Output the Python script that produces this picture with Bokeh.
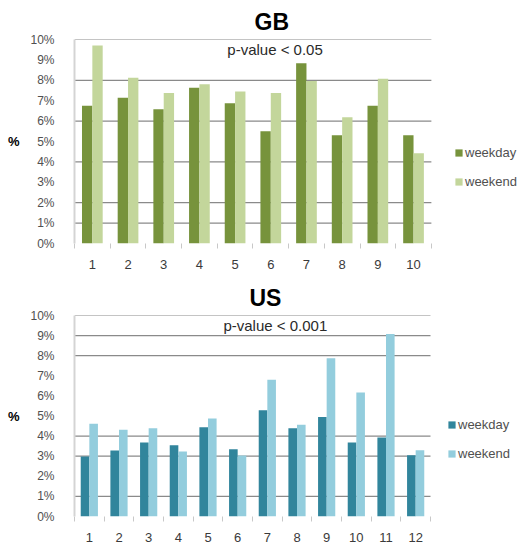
from bokeh.plotting import figure
from bokeh.layouts import column
from bokeh.models import (ColumnDataSource, FixedTicker, Label, Legend, LegendItem)
from bokeh.transform import dodge
from bokeh.embed import file_html
from bokeh.resources import INLINE

# ---- data (percent of activity) ----
gb_groups = [1, 2, 3, 4, 5, 6, 7, 8, 9, 10]
gb_weekday = [6.75, 7.14, 6.58, 7.63, 6.88, 5.50, 8.84, 5.31, 6.75, 5.31]
gb_weekend = [9.70, 8.12, 7.38, 7.81, 7.45, 7.38, 7.97, 6.19, 8.07, 4.43]

us_groups = [1, 2, 3, 4, 5, 6, 7, 8, 9, 10, 11, 12]
us_weekday = [2.99, 3.28, 3.68, 3.55, 4.44, 3.35, 5.28, 4.39, 4.95, 3.68, 3.93, 3.05]
us_weekend = [4.62, 4.31, 4.39, 3.23, 4.88, 3.04, 6.80, 4.57, 7.87, 6.17, 9.08, 3.30]

y_ticks = list(range(0, 11))
y_labels = {t: f"{t}%" for t in y_ticks}

FONT = "Liberation Sans"
W, H = 531, 272
PLOT_RIGHT = 430  # where the bar area ends; the legend sits to its right


def make_panel(title, groups, weekday, weekend, colors, pval, pval_x, grid_at,
               border_left, border_top, border_bottom, legend_loc, title_offset):
    src = ColumnDataSource(dict(x=groups, weekday=weekday, weekend=weekend))
    n = len(groups)
    # the frame spans the legend too, so one category step is
    # (PLOT_RIGHT - border_left) / n pixels
    step = (PLOT_RIGHT - border_left) / n
    x_end = 0.5 + (W - border_left) / step
    p = figure(width=W, height=H, x_range=(0.5, x_end), y_range=(0, 10),
               output_backend="svg", toolbar_location=None,
               min_border_left=border_left, min_border_right=0,
               min_border_top=border_top, min_border_bottom=border_bottom)
    p.outline_line_color = None
    p.background_fill_color = "white"

    p.title.text = title
    p.title.align = "left"
    p.title.offset = title_offset
    p.title.text_font = FONT
    p.title.text_font_size = "23px"
    p.title.text_font_style = "bold"
    p.title.text_color = "black"

    # horizontal rules across the bar area only
    p.segment(x0=[0.5] * len(grid_at), x1=[n + 0.5] * len(grid_at),
              y0=grid_at, y1=grid_at, line_color="#8a8a8a", line_width=1.2)

    bw = 0.29
    r1 = p.vbar(x=dodge("x", -bw / 2, range=p.x_range), top="weekday", width=bw,
                bottom=0, source=src, fill_color=colors[0], line_color=None)
    r2 = p.vbar(x=dodge("x", bw / 2, range=p.x_range), top="weekend", width=bw,
                bottom=0, source=src, fill_color=colors[1], line_color=None)

    # axes
    xa = p.xaxis[0]
    xa.ticker = FixedTicker(ticks=groups, minor_ticks=[g + 0.5 for g in [0] + groups])
    xa.major_tick_line_color = None
    xa.major_tick_out = 0
    xa.minor_tick_out = 5
    xa.minor_tick_in = 0
    xa.minor_tick_line_color = "#c8c8c8"
    xa.axis_line_color = None
    xa.major_label_standoff = 11
    xa.major_label_text_font = FONT
    xa.major_label_text_font_size = "13px"
    xa.major_label_text_color = "#3a3a3a"

    ya = p.yaxis[0]
    ya.ticker = FixedTicker(ticks=y_ticks)
    ya.major_label_overrides = y_labels
    ya.major_tick_line_color = None
    ya.minor_tick_line_color = None
    ya.axis_line_color = "#d4d4d4"
    ya.axis_line_width = 2
    ya.major_label_standoff = 14
    ya.major_label_text_font = FONT
    ya.major_label_text_font_size = "12px"
    ya.major_label_text_color = "#505050"
    ya.axis_label = "%"
    ya.axis_label_orientation = "horizontal"
    ya.axis_label_text_font = FONT
    ya.axis_label_text_font_size = "13px"
    ya.axis_label_text_font_style = "bold"
    ya.axis_label_text_color = "black"
    ya.axis_label_standoff = 8

    p.xgrid.grid_line_color = None
    p.ygrid.grid_line_color = None

    p.add_layout(Label(x=pval_x, y=9.5, text=pval, text_align="center",
                       text_baseline="middle", text_font=FONT,
                       text_font_size="15px", text_color="#2a2a2a"))

    legend = Legend(items=[LegendItem(label="weekday", renderers=[r1]),
                           LegendItem(label="weekend", renderers=[r2])],
                    location=legend_loc, orientation="vertical",
                    glyph_width=9, glyph_height=9, label_height=13,
                    label_standoff=2, spacing=14, padding=0, margin=0,
                    border_line_color=None, background_fill_alpha=0,
                    label_text_font=FONT, label_text_font_size="13px",
                    label_text_color="#505050")
    p.add_layout(legend, "center")
    return p


gb = make_panel("GB", gb_groups, gb_weekday, gb_weekend, ("#77933C", "#C3D69B"),
                "p-value < 0.05", 6.12, [10, 8, 6, 4, 2, 1],
                70, 39, 29, (380, 54), 180)
us = make_panel("US", us_groups, us_weekday, us_weekend, ("#31859C", "#93CDDD"),
                "p-value < 0.001", 7.27, [10, 9, 8, 4, 3, 1],
                74, 43, 27, (373, 55), 175)

layout = column(gb, us, spacing=0)
open("out.html", "w").write(file_html(layout, INLINE))
